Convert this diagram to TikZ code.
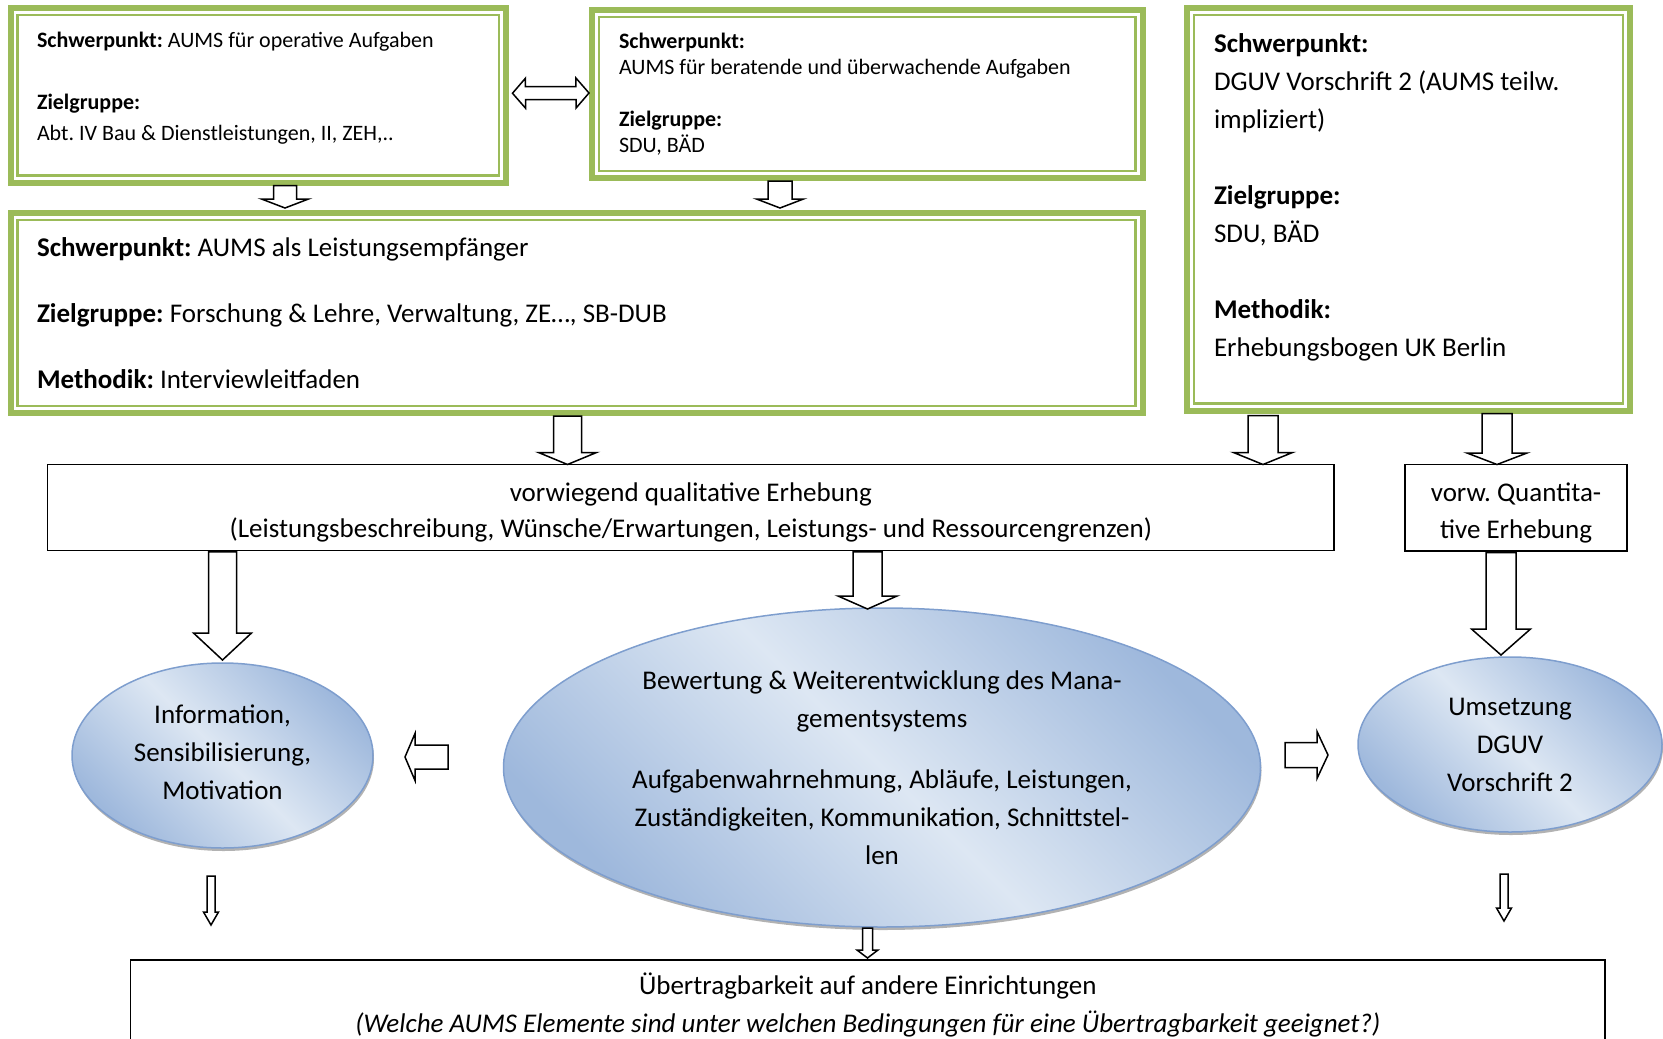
\documentclass[tikz,border=0pt]{standalone}
\usepackage{fontspec}
\setmainfont{Carlito}
\usetikzlibrary{positioning,calc,shapes.geometric,shadows}
\definecolor{aumsgreen}{RGB}{155,187,89}
\definecolor{ellline}{RGB}{126,158,206}
\definecolor{elllight}{RGB}{221,231,243}
\definecolor{elldark}{RGB}{158,184,220}
\frenchspacing

\tikzset{
  greenbox/.style={rectangle, draw=aumsgreen, line width=6pt, inner sep=0pt, outer sep=0pt, align=flush left},
  plainbox/.style={rectangle, draw=black, line width=1.5pt, inner sep=0pt, outer sep=0pt, align=center,
    font=\fontsize{27}{38}\selectfont},
  blueell/.style={ellipse, draw=ellline, line width=1.5pt, inner sep=0pt, outer sep=0pt, align=center,
    shading=axis, top color=elldark, bottom color=elldark, middle color=elllight, shading angle=-45,
    drop shadow={shadow xshift=1pt, shadow yshift=-3pt, fill=black!55, opacity=.55},
    font=\fontsize{27}{38}\selectfont},
  blockarr/.style={draw=black, fill=white, line width=1.5pt, line join=miter}
}

% hollow block arrow: start, tip, half shaft, half head, head length
\newcommand{\blockarrow}[5]{%
  \coordinate (ba-s) at (#1);
  \coordinate (ba-t) at (#2);
  \coordinate (ba-h) at ($(ba-t)!#5!(ba-s)$);
  \draw[blockarr] ($(ba-s)!#3!90:(ba-t)$) -- ($(ba-h)!#3!90:(ba-t)$) -- ($(ba-h)!#4!90:(ba-t)$) -- (ba-t)
    -- ($(ba-h)!#4!-90:(ba-t)$) -- ($(ba-h)!#3!-90:(ba-t)$) -- ($(ba-s)!#3!-90:(ba-t)$) -- cycle;
}
% same with two heads: tip, tip, half shaft, half head, head length
\newcommand{\dblockarrow}[5]{%
  \coordinate (ba-s) at (#1);
  \coordinate (ba-t) at (#2);
  \coordinate (ba-g) at ($(ba-s)!#5!(ba-t)$);
  \coordinate (ba-h) at ($(ba-t)!#5!(ba-s)$);
  \draw[blockarr] (ba-s) -- ($(ba-g)!#4!90:(ba-t)$) -- ($(ba-g)!#3!90:(ba-t)$) -- ($(ba-h)!#3!-90:(ba-s)$)
    -- ($(ba-h)!#4!-90:(ba-s)$) -- (ba-t) -- ($(ba-h)!#4!90:(ba-s)$) -- ($(ba-h)!#3!90:(ba-s)$)
    -- ($(ba-g)!#3!-90:(ba-t)$) -- ($(ba-g)!#4!-90:(ba-t)$) -- cycle;
}

\begin{document}
\begin{tikzpicture}[x=1pt, y=-1pt]
  \useasboundingbox (0,0) rectangle (1663,1039);
  \clip (0,0) rectangle (1663,1039);

  % Focus boxes (green frames)
  \node[greenbox, minimum width=495.5pt, minimum height=174.5pt, text width=442.5pt,
        font=\fontsize{22}{31}\selectfont] (box1) at (258.25,95.25)
    {\textbf{Schwerpunkt:} AUMS für operative Aufgaben\\[31pt]\textbf{Zielgruppe:}\\Abt. IV Bau \& Dienstleistungen, II, ZEH,..\\[-13.5pt]\mbox{}};
  \node[greenbox, minimum width=550.5pt, minimum height=168pt, text width=496.5pt,
        font=\fontsize{22}{26}\selectfont] (box2) at (867.25,94)
    {\textbf{Schwerpunkt:}\\AUMS für beratende und überwachende Aufgaben\\[26pt]\textbf{Zielgruppe:}\\SDU, BÄD};
  \node[greenbox, minimum width=443pt, minimum height=402.5pt, text width=389pt,
        font=\fontsize{27}{37.9}\selectfont] (box3) at (1408.5,209.25)
    {\textbf{Schwerpunkt:}\\DGUV Vorschrift 2 (AUMS teilw.\\impliziert)\\[37.9pt]\textbf{Zielgruppe:}\\SDU, BÄD\\[37.9pt]\textbf{Methodik:}\\Erhebungsbogen UK Berlin\\[-9.3pt]\mbox{}};
  \node[greenbox, minimum width=1132pt, minimum height=200pt, text width=1079pt,
        font=\fontsize{27}{32.9}\selectfont] (box4) at (576.5,313)
    {\textbf{Schwerpunkt:} AUMS als Leistungsempfänger\\[32.9pt]\textbf{Zielgruppe:} Forschung \& Lehre, Verwaltung, ZE…, SB-DUB\\[32.9pt]\textbf{Methodik:} Interviewleitfaden};

  % Inner thin frame lines
  \foreach \b in {box1,box2,box3,box4}
    \draw[aumsgreen, line width=2.5pt] ($(\b.north west)+(7,7)$) rectangle ($(\b.south east)+(-7,-7)$);

  % Survey boxes
  \node[plainbox, minimum width=1286.3pt, minimum height=85.9pt, font=\fontsize{27}{36}\selectfont] (qual) at (690.85,507.45)
    {\mbox{}\\[-7.6pt]vorwiegend qualitative Erhebung\\(Leistungsbeschreibung, Wünsche/Erwartungen, Leistungs- und Ressourcengrenzen)};
  \node[plainbox, minimum width=222pt, minimum height=86.5pt, font=\fontsize{27}{37}\selectfont] (quant) at (1516,507.75)
    {\mbox{}\\[-7.6pt]vorw. Quantita-\\tive Erhebung};

  % Result ellipses
  \node[blueell, minimum width=301pt, minimum height=185pt] (ell1) at (222.5,755.5)
    {Information,\\Sensibilisierung,\\Motivation\\[-32pt]\mbox{}};
  \node[blueell, minimum width=757pt, minimum height=319pt] (ell2) at (882,767.5)
    {Bewertung \& Weiterentwicklung des Mana-\\gementsystems\\[23.5pt]Aufgabenwahrnehmung, Abläufe, Leistungen,\\Zuständigkeiten, Kommunikation, Schnittstel-\\len};
  \node[blueell, minimum width=304pt, minimum height=175pt] (ell3) at (1510,744.5)
    {Umsetzung\\DGUV\\Vorschrift 2};

  % Transfer box
  \node[plainbox, minimum width=1474.5pt, minimum height=90pt] (transfer) at (867.75,1005)
    {Übertragbarkeit auf andere Einrichtungen\\\textit{(Welche AUMS Elemente sind unter welchen Bedingungen für eine Übertragbarkeit geeignet?)}};

  % Arrow columns
  \coordinate (c1) at (285,0);
  \coordinate (c2) at (780,0);
  \coordinate (c3) at (567.5,0);
  \coordinate (c4) at (1263,0);
  \coordinate (c5) at (1497,0);
  \coordinate (c7) at (867.5,0);
  \coordinate (c8) at (1501,0);

  % Block arrows
  \dblockarrow{$(box1.east)+(6.5,-2)$}{$(box2.west)+(-3,-1)$}{6.5pt}{15pt}{13pt}
  \blockarrow{$(box1.south -| c1)+(0,3)$}{$(box4.north -| c1)+(0,-5)$}{11.5pt}{23.5pt}{9pt}
  \blockarrow{$(box2.south -| c2)+(0,3)$}{$(box4.north -| c2)+(0,-5)$}{12pt}{23.5pt}{9pt}
  \blockarrow{$(box4.south -| c3)+(0,3)$}{qual.north -| c3}{14pt}{29pt}{12pt}
  \blockarrow{$(box3.south -| c4)+(0,5)$}{qual.north -| c4}{15pt}{29.5pt}{12pt}
  \blockarrow{$(box3.south -| c5)+(0,3)$}{quant.north -| c5}{15pt}{30pt}{11.5pt}
  \blockarrow{$(qual.south -| ell1.north)+(0,1.5)$}{$(ell1.north)+(0,-3)$}{14pt}{29pt}{27pt}
  \blockarrow{$(qual.south -| c7)+(0,1.5)$}{$(c7 |- ell2.north)+(0,1)$}{14.5pt}{29.5pt}{13pt}
  \blockarrow{$(quant.south -| c8)+(0,1.5)$}{$(c8 |- ell3.north)+(0,-2)$}{15pt}{29.5pt}{26pt}
  \blockarrow{$(ell1.east)+(75,1.5)$}{$(ell1.east)+(32,1.5)$}{12pt}{23.5pt}{10pt}
  \blockarrow{$(ell3.west)+(-73,10.5)$}{$(ell3.west)+(-30,10.5)$}{12.5pt}{23.5pt}{11pt}
  \blockarrow{$(ell1.south)+(-11.5,28)$}{$(ell1.south)+(-11.5,77)$}{4pt}{7.5pt}{13pt}
  \blockarrow{$(ell3.south)+(-6,42)$}{$(ell3.south)+(-6,89)$}{4pt}{7.5pt}{13pt}
  \blockarrow{$(ell2.south -| c7)+(0,1)$}{$(transfer.north -| c7)+(0,-2)$}{5pt}{10.5pt}{8pt}
\end{tikzpicture}
\end{document}
